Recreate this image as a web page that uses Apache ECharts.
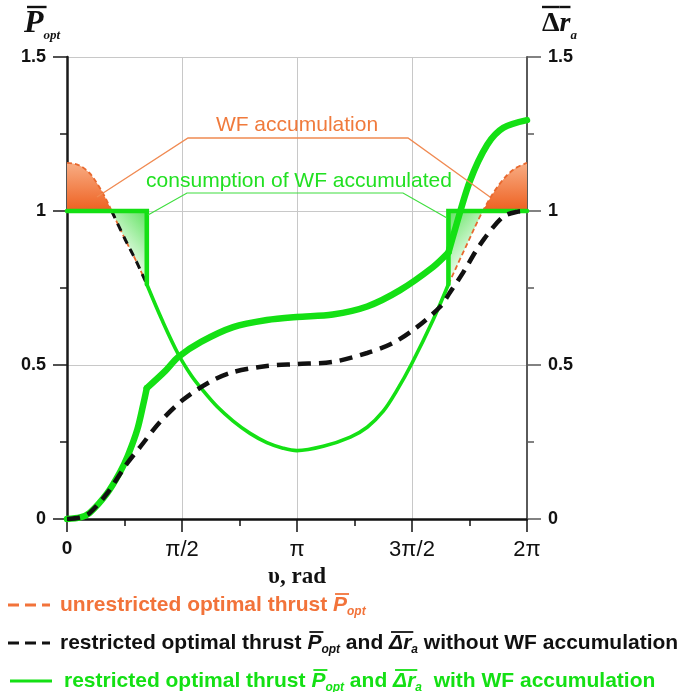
<!DOCTYPE html>
<html>
<head>
<meta charset="utf-8">
<script src="https://cdn.jsdelivr.net/npm/echarts@6.0.0/dist/echarts.min.js"></script>
<style>
  html, body { margin: 0; padding: 0; background: #fff; }
  #chart { width: 684px; height: 692px; }
</style>
</head>
<body>
<div id="chart"></div>
<script>
const PI = Math.PI;

// x axis tick labels (every pi/2)
const xTickLabels = ['0', 'π/2', 'π', '3π/2', '2π'];

// unrestricted optimal thrust P_opt (υ in rad)
const unresNu = [0, 0.15, 0.30, 0.41, 0.52, 0.61, 0.80, 0.95, 1.09, 1.30, 1.52, 1.70, 1.83, 2.05, 2.27, 2.50, 2.73, 2.95, 3.14,
                 3.50, 3.87, 4.10, 4.32, 4.50, 4.71, 5.00, 5.21, 5.45, 5.68, 5.90, 6.10, 6.283];
const unresP  = [1.156, 1.15, 1.125, 1.09, 1.045, 1.0, 0.905, 0.835, 0.762, 0.645, 0.535, 0.465, 0.425, 0.365, 0.318, 0.278, 0.248, 0.23, 0.222,
                 0.236, 0.266, 0.298, 0.35, 0.415, 0.505, 0.646, 0.762, 0.885, 1.0, 1.085, 1.135, 1.156];

// thrust limit, where unrestricted crosses it, and where WF consumption ends
const pMax = 1;
const crossNu = [0.61, 5.68];
const wfNu = [1.09, 5.21];

// delta r_a without WF accumulation (black dashed)
const drNoWFNu = [0, 0.18, 0.31, 0.55, 0.82, 1.0, 1.27, 1.58, 1.95, 2.27, 2.73, 3.14, 3.63, 4.10, 4.45, 4.78, 5.10, 5.23, 5.41, 5.64, 5.95, 6.16, 6.283];
const drNoWF   = [0, 0.005, 0.02, 0.084, 0.18, 0.234, 0.315, 0.386, 0.445, 0.477, 0.497, 0.503, 0.51, 0.539, 0.571, 0.623, 0.69, 0.735, 0.80, 0.89, 0.98, 0.998, 1.0];

// delta r_a with WF accumulation (thick green)
const drWFNu = [0, 0.18, 0.31, 0.55, 0.72, 0.83, 0.96, 1.04, 1.09, 1.34, 1.52, 1.83, 2.27, 2.73, 3.14, 3.63, 4.10, 4.55, 5.0, 5.21, 5.30, 5.50, 5.74, 5.96, 6.283];
const drWF   = [0, 0.005, 0.02, 0.084, 0.15, 0.205, 0.29, 0.37, 0.425, 0.48, 0.526, 0.575, 0.623, 0.646, 0.656, 0.664, 0.69, 0.743, 0.818, 0.865, 0.94, 1.095, 1.215, 1.27, 1.295];

const GREEN = '#14e014';
const BLACK = '#111';
const SANS = '"Liberation Sans", Arial, sans-serif';
const SERIF = '"Liberation Serif", "Times New Roman", serif';

const pts = (xs, ys) => xs.map((x, i) => [x, ys[i]]);
const between = (p, a, b) => p.filter(d => d[0] >= a - 1e-9 && d[0] <= b + 1e-9);
const unres = pts(unresNu, unresP);
const valAt = nu => unres.find(d => Math.abs(d[0] - nu) < 1e-9)[1];
const drW = pts(drWFNu, drWF);

const base = { type: 'line', showSymbol: false, symbol: 'none', silent: true, animation: false };

const areaSeries = (data, grad) => Object.assign({}, base, {
  data: data, smooth: 0.35, z: 1,
  lineStyle: { width: 0, opacity: 0 },
  areaStyle: { origin: pMax, opacity: 1, color: grad }
});
const orangeGrad = () => new echarts.graphic.LinearGradient(0, 0, 0, 1, [
  { offset: 0, color: '#f8ad84' }, { offset: 1, color: '#ee6020' }]);
const greenGradL = new echarts.graphic.LinearGradient(1, 0, 0, 0.4, [
  { offset: 0, color: '#5fe25f' }, { offset: 1, color: '#e8fbe8' }]);
const greenGradR = new echarts.graphic.LinearGradient(0, 0, 1, 0.4, [
  { offset: 0, color: '#5fe25f' }, { offset: 1, color: '#e8fbe8' }]);

const series = [
  areaSeries(between(unres, 0, crossNu[0]), orangeGrad()),
  areaSeries(between(unres, crossNu[1], 7), orangeGrad()),
  areaSeries(between(unres, crossNu[0], wfNu[0]), greenGradL),
  areaSeries(between(unres, wfNu[1], crossNu[1]), greenGradR),
  // unrestricted thrust, dashed edges
  Object.assign({}, base, { data: between(unres, 0, wfNu[0]), smooth: 0.35, z: 2,
    lineStyle: { color: '#e8692f', width: 1.8, type: [5, 3] } }),
  Object.assign({}, base, { data: between(unres, wfNu[1], 7), smooth: 0.35, z: 2,
    lineStyle: { color: '#e8692f', width: 1.8, type: [5, 3] } }),
  // restricted thrust without WF (visible part)
  Object.assign({}, base, { data: between(unres, crossNu[0], wfNu[0]), smooth: 0.35, z: 3,
    lineStyle: { color: BLACK, width: 3, type: [8, 6] } }),
  // restricted thrust with WF
  Object.assign({}, base, { data: between(unres, wfNu[0], wfNu[1]), smooth: 0.35, z: 4,
    lineStyle: { color: GREEN, width: 3.6, cap: 'round', join: 'round' } }),
  Object.assign({}, base, { z: 4, connectNulls: false,
    data: [[0, pMax], [wfNu[0], pMax], [wfNu[0], valAt(wfNu[0])], '-',
           [wfNu[1], valAt(wfNu[1])], [wfNu[1], pMax], [2 * PI, pMax]],
    lineStyle: { color: GREEN, width: 4.6, cap: 'round', join: 'miter' } }),
  // delta r_a with WF, split at the kinks
  Object.assign({}, base, { data: between(drW, 0, wfNu[0]), smooth: 0.3, z: 5,
    lineStyle: { color: GREEN, width: 6.5, cap: 'round' } }),
  Object.assign({}, base, { data: between(drW, wfNu[0], wfNu[1]), smooth: 0.3, z: 5,
    lineStyle: { color: GREEN, width: 6.5, cap: 'round' } }),
  Object.assign({}, base, { data: between(drW, wfNu[1], 7), smooth: 0.3, z: 5,
    lineStyle: { color: GREEN, width: 6.5, cap: 'round' } }),
  // delta r_a without WF
  Object.assign({}, base, { data: pts(drNoWFNu, drNoWF), smooth: 0.3, z: 6,
    lineStyle: { color: BLACK, width: 4.5, type: [13, 8] } })
];

// text rows with overlines / subscripts
const ctx = document.createElement('canvas').getContext('2d');
function row(x, y, color, overDy, pieces) {
  const els = [];
  let cx = x;
  pieces.forEach(p => {
    ctx.font = p.font;
    const w = ctx.measureText(p.t).width;
    els.push({ type: 'text', x: cx, y: y + (p.dy || 0), silent: true, z: 10,
      style: { text: p.t, font: p.font, fill: color, textAlign: 'left', textVerticalAlign: 'middle', align: 'left', verticalAlign: 'middle' } });
    if (p.over) {
      const ox = p.ox || 0;
      els.push({ type: 'line', silent: true, z: 10,
        shape: { x1: cx + ox, y1: y + overDy, x2: cx + w + ox, y2: y + overDy },
        style: { stroke: color, lineWidth: p.ow || 1.8 } });
    }
    cx += w;
  });
  return els;
}

const B = 'bold 21px ' + SANS, IT = 'italic bold 21px ' + SANS, SUB = 'italic bold 12px ' + SANS;
const legendColor = ['#f2733a', BLACK, GREEN];
const graphics = [].concat(
  // axis titles
  row(24, 24, BLACK, -17, [{ t: 'P', font: 'italic bold 32px ' + SERIF, over: true, ox: 3, ow: 2.4 },
                           { t: 'opt', font: 'italic bold 13px ' + SERIF, dy: 12 }]),
  row(542, 24, BLACK, -17, [{ t: 'Δ', font: 'bold 28px ' + SERIF, over: true, ow: 2.4 },
                            { t: 'r', font: 'italic bold 28px ' + SERIF, over: true, ow: 2.4 },
                            { t: 'a', font: 'italic bold 13px ' + SERIF, dy: 12 }]),
  // annotations
  [
    { type: 'polyline', silent: true, z: 8, shape: { points: [[97, 197], [188, 138], [408, 138], [490, 197]] },
      style: { stroke: '#f08a52', lineWidth: 1.3, fill: null } },
    { type: 'polyline', silent: true, z: 8, shape: { points: [[148, 215], [187, 193], [403, 193], [447, 218]] },
      style: { stroke: '#3ede3e', lineWidth: 1.2, fill: null } },
    { type: 'text', x: 297, y: 125, silent: true, z: 10,
      style: { text: 'WF accumulation', font: '21px ' + SANS, fill: '#f07a3c', textAlign: 'center', textVerticalAlign: 'middle', align: 'center', verticalAlign: 'middle' } },
    { type: 'text', x: 299, y: 181, silent: true, z: 10,
      style: { text: 'consumption of WF accumulated', font: '21px ' + SANS, fill: '#22e022', textAlign: 'center', textVerticalAlign: 'middle', align: 'center', verticalAlign: 'middle' } },
    // legend keys
    { type: 'line', silent: true, shape: { x1: 8, y1: 605, x2: 50, y2: 605 }, style: { stroke: legendColor[0], lineWidth: 3, lineDash: [11, 6] } },
    { type: 'line', silent: true, shape: { x1: 8, y1: 643, x2: 50, y2: 643 }, style: { stroke: legendColor[1], lineWidth: 3, lineDash: [11, 6] } },
    { type: 'line', silent: true, shape: { x1: 10, y1: 681, x2: 52, y2: 681 }, style: { stroke: legendColor[2], lineWidth: 3 } }
  ],
  row(60, 605, legendColor[0], -11, [{ t: 'unrestricted optimal thrust ', font: B },
                                     { t: 'P', font: IT, over: true, ox: 2 }, { t: 'opt', font: SUB, dy: 7 }]),
  row(60, 643, legendColor[1], -11, [{ t: 'restricted optimal thrust ', font: B },
                                     { t: 'P', font: IT, over: true, ox: 2 }, { t: 'opt', font: SUB, dy: 7 },
                                     { t: ' and ', font: B },
                                     { t: 'Δr', font: IT, over: true, ox: 2 }, { t: 'a', font: SUB, dy: 7 },
                                     { t: ' without WF accumulation', font: B }]),
  row(64, 681, legendColor[2], -11, [{ t: 'restricted optimal thrust ', font: B },
                                     { t: 'P', font: IT, over: true, ox: 2 }, { t: 'opt', font: SUB, dy: 7 },
                                     { t: ' and ', font: B },
                                     { t: 'Δr', font: IT, over: true, ox: 2 }, { t: 'a', font: SUB, dy: 7 },
                                     { t: '  with WF accumulation', font: B }])
);

const yAxisCommon = {
  type: 'value', min: 0, max: 1.5, interval: 0.5,
  axisTick: { show: true, length: 14, lineStyle: { width: 1.5 } },
  minorTick: { show: true, splitNumber: 2, length: 7, lineStyle: { width: 1.5 } },
  axisLabel: { margin: 21, color: BLACK, fontFamily: SANS, fontWeight: 'bold', fontSize: 18 }
};

const chart = echarts.init(document.getElementById('chart'));
chart.setOption({
  animation: false,
  grid: { left: 67, right: 157, top: 57, bottom: 173 },
  xAxis: {
    type: 'value', min: 0, max: 2 * PI, interval: PI / 2,
    axisLine: { lineStyle: { color: BLACK, width: 2.5 } },
    axisTick: { length: 13, lineStyle: { color: BLACK, width: 1.5 } },
    minorTick: { show: true, splitNumber: 2, length: 7, lineStyle: { color: BLACK, width: 1.5 } },
    splitLine: { show: true, lineStyle: { color: '#c8c8c8', width: 1 } },
    axisLabel: {
      margin: 20,
      formatter: v => {
        const i = Math.round(v / (PI / 2));
        return i === 0 ? '{z|' + xTickLabels[0] + '}' : '{p|' + xTickLabels[i] + '}';
      },
      rich: {
        z: { fontFamily: SANS, fontWeight: 'bold', fontSize: 19, color: BLACK },
        p: { fontFamily: SANS, fontSize: 22, color: BLACK }
      }
    },
    name: 'υ, rad', nameLocation: 'middle', nameGap: 45,
    nameTextStyle: { fontFamily: SERIF, fontWeight: 'bold', fontSize: 23, color: BLACK }
  },
  yAxis: [
    Object.assign({}, yAxisCommon, {
      position: 'left',
      axisLine: { show: true, lineStyle: { color: '#1a1a1a', width: 2.5 } },
      splitLine: { show: true, lineStyle: { color: '#c8c8c8', width: 1 } }
    }),
    Object.assign({}, yAxisCommon, {
      position: 'right',
      axisLine: { show: true, lineStyle: { color: '#5a5a5a', width: 2 } },
      splitLine: { show: false }
    })
  ],
  series: series,
  graphic: graphics
});
</script>
</body>
</html>
